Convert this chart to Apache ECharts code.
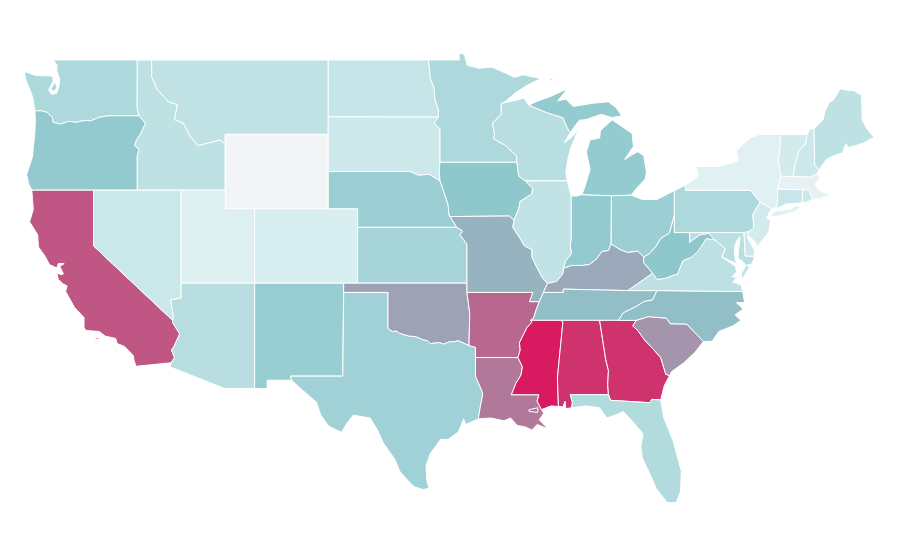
<!DOCTYPE html>
<html>
<head>
<meta charset="utf-8">
<title>US states</title>
<script src="https://cdn.jsdelivr.net/npm/echarts@6/dist/echarts.min.js"></script>
<style>
  html, body { margin: 0; padding: 0; background: #fff; }
  #main { width: 900px; height: 560px; }
</style>
</head>
<body>
<div id="main"></div>
<script>
// values, 0 = palest, 100 = deepest red
const stateNames = ['Alabama','Arizona','Arkansas','California','Colorado','Connecticut','Delaware','Florida','Georgia','Idaho','Illinois','Indiana','Iowa','Kansas','Kentucky','Louisiana','Maine','Maryland','Massachusetts','Michigan','Minnesota','Mississippi','Missouri','Montana','Nebraska','Nevada','New Hampshire','New Jersey','New Mexico','New York','North Carolina','North Dakota','Ohio','Oklahoma','Oregon','Pennsylvania','Rhode Island','South Carolina','South Dakota','Tennessee','Texas','Utah','Vermont','Virginia','Washington','West Virginia','Wisconsin','Wyoming'];
const stateValues = [93,29,78,83,13,21,19,32,93,26,24,48,50,38,59,73,26,28,6,47,34,100,56,25,44,20,19,16,45,9,53,22,43,61,48,34,19,65,19,53,41,11,16,27,34,50,29,0];
const paletteStops = ['#f3f4f6','#daeef0','#c0e2e5','#a7d5d9','#8ec8cd','#a09db2','#b37296','#c64679','#d81b60'];

// state outlines, lon/lat, [outer ring, holes...] per part
const shapes = {
  Washington: [[[[-122.76,49],[-117.03,49],[-117.04,46.42],[-116.92,46],[-118.98,46],[-119.6,45.92],[-120.2,45.73],[-120.65,45.74],[-121.2,45.65],[-121.7,45.7],[-122.25,45.55],[-122.75,45.65],[-122.8,45.9],[-123.15,46.18],[-123.5,46.26],[-124,46.27],[-124.07,46.7],[-124.12,46.95],[-124.3,47.35],[-124.6,47.9],[-124.72,48.38],[-123.9,48.16],[-123.1,48.15],[-122.78,48.13],[-122.75,47.85],[-123.05,47.4],[-122.85,47.15],[-122.5,47.22],[-122.35,47.6],[-122.3,47.95],[-122.5,48.4],[-122.5,48.75]]],[[[-122.62,47.85],[-122.9,47.45],[-122.7,47.3],[-122.5,47.5]]]],
  Oregon: [[[[-124,46.27],[-123.5,46.26],[-123.15,46.18],[-122.8,45.9],[-122.75,45.65],[-122.25,45.55],[-121.7,45.7],[-121.2,45.65],[-120.65,45.74],[-120.2,45.73],[-119.6,45.92],[-118.98,46],[-116.92,46],[-116.47,45.6],[-116.85,44.95],[-117.05,44.75],[-117.22,44.4],[-116.9,44.2],[-117.03,43.83],[-117.03,42],[-124.2,42],[-124.4,42.3],[-124.55,42.84],[-124.4,43.2],[-124.15,43.8],[-124.1,44.3],[-124,45],[-123.95,45.8]]]],
  California: [[[[-124.2,42],[-120,42],[-120,39],[-114.63,35],[-114.6,34.85],[-114.15,34.27],[-114.53,33.6],[-114.7,33.4],[-114.5,33],[-114.72,32.72],[-117.12,32.53],[-117.25,32.85],[-117.3,33.1],[-117.9,33.6],[-118.4,33.75],[-118.5,34.03],[-119.2,34.15],[-119.6,34.4],[-120.5,34.45],[-120.65,34.6],[-120.65,35.15],[-121.3,35.7],[-121.9,36.55],[-121.8,36.85],[-122.05,36.95],[-122.4,37.2],[-122.5,37.55],[-122.2,37.45],[-122.05,37.5],[-122.3,37.9],[-122,38.05],[-122.4,38.05],[-122.5,37.82],[-123,38],[-123.3,38.45],[-123.75,38.95],[-123.8,39.6],[-124.35,40.3],[-124.1,40.95],[-124.15,41.5]]],[[[-119.9,34.05],[-119.6,34.05],[-119.6,33.97],[-119.9,33.97]]],[[[-118.5,33.45],[-118.35,33.4],[-118.42,33.33]]]],
  Idaho: [[[[-117.03,49],[-116.05,49],[-116.05,48.1],[-115.67,47.4],[-114.9,46.75],[-114.3,46.6],[-114.5,45.8],[-113.9,45.6],[-113.4,44.85],[-112.9,44.4],[-111.4,44.7],[-111.05,44.48],[-111.05,42],[-117.03,42],[-117.03,43.83],[-116.9,44.2],[-117.22,44.4],[-117.05,44.75],[-116.85,44.95],[-116.47,45.6],[-116.92,46],[-117.04,46.42]]]],
  Montana: [[[[-116.05,49],[-104.05,49],[-104.05,45],[-111.05,45],[-111.05,44.48],[-111.4,44.7],[-112.9,44.4],[-113.4,44.85],[-113.9,45.6],[-114.5,45.8],[-114.3,46.6],[-114.9,46.75],[-115.67,47.4],[-116.05,48.1]]]],
  Wyoming: [[[[-111.05,45],[-104.05,45],[-104.05,41],[-111.05,41]]]],
  Nevada: [[[[-120,42],[-114.05,42],[-114.05,36.2],[-114.75,36.1],[-114.57,35.2],[-114.63,35],[-120,39]]]],
  Utah: [[[[-114.05,42],[-111.05,42],[-111.05,41],[-109.05,41],[-109.05,37],[-114.05,37]]]],
  Colorado: [[[[-109.05,41],[-102.05,41],[-102.05,37],[-109.05,37]]]],
  Arizona: [[[[-114.05,37],[-109.05,37],[-109.05,31.33],[-111.07,31.33],[-114.81,32.5],[-114.72,32.72],[-114.5,33],[-114.7,33.4],[-114.53,33.6],[-114.15,34.27],[-114.6,34.85],[-114.63,35],[-114.57,35.2],[-114.75,36.1],[-114.05,36.2]]]],
  'New Mexico': [[[[-109.05,37],[-103,37],[-103.06,32],[-106.62,32],[-106.53,31.78],[-108.2,31.78],[-108.2,31.33],[-109.05,31.33]]]],
  'North Dakota': [[[[-104.05,49],[-97.23,49],[-97.1,48],[-96.85,47.5],[-96.8,46.9],[-96.55,46.3],[-96.56,45.93],[-104.05,45.94]]]],
  'South Dakota': [[[[-104.05,45.94],[-96.56,45.93],[-96.85,45.6],[-96.45,45.3],[-96.45,43.5],[-96.5,43.1],[-96.45,42.49],[-97.2,42.85],[-97.9,42.8],[-98.5,43],[-104.05,43]]]],
  Nebraska: [[[[-104.05,43],[-98.5,43],[-97.9,42.8],[-97.2,42.85],[-96.45,42.49],[-96.1,41.7],[-95.9,41.2],[-95.85,40.7],[-95.31,40],[-102.05,40],[-102.05,41],[-104.05,41]]]],
  Kansas: [[[[-102.05,40],[-95.31,40],[-94.9,39.8],[-95.1,39.6],[-94.62,39.1],[-94.62,37],[-102.05,37]]]],
  Oklahoma: [[[[-103,37],[-94.62,37],[-94.62,36.5],[-94.43,35.4],[-94.48,33.64],[-95.2,33.9],[-95.5,33.85],[-95.8,33.85],[-96.2,33.72],[-96.5,33.8],[-97.1,33.75],[-97.3,33.9],[-97.6,33.95],[-98.1,34.12],[-98.6,34.15],[-99.2,34.3],[-99.4,34.42],[-99.7,34.4],[-100,34.56],[-100,36.5],[-103,36.5]]]],
  Texas: [[[[-103,36.5],[-100,36.5],[-100,34.56],[-99.7,34.4],[-99.4,34.42],[-99.2,34.3],[-98.6,34.15],[-98.1,34.12],[-97.6,33.95],[-97.3,33.9],[-97.1,33.75],[-96.5,33.8],[-96.2,33.72],[-95.8,33.85],[-95.5,33.85],[-95.2,33.9],[-94.48,33.64],[-94.04,33.55],[-94.04,32],[-93.6,31.2],[-93.55,31],[-93.7,30.4],[-93.85,29.7],[-94.7,29.4],[-94.85,29.7],[-95.2,29],[-95.9,28.6],[-96.4,28.6],[-97.1,27.85],[-97.4,27.2],[-97.35,26.4],[-97.2,25.97],[-97.6,25.9],[-98.2,26.05],[-98.65,26.4],[-99.2,26.9],[-99.5,27.5],[-100.3,28.4],[-100.7,29.1],[-101.2,29.75],[-102.35,29.9],[-102.75,29.5],[-103.15,28.98],[-104,29.3],[-104.55,29.9],[-104.85,30.6],[-106.1,31.45],[-106.53,31.78],[-106.62,32],[-103.06,32]]]],
  Minnesota: [[[[-97.23,49],[-95.15,49],[-95.15,49.38],[-94.8,49.3],[-94.6,48.72],[-93.8,48.55],[-92.95,48.62],[-92,48.3],[-91.4,48.07],[-90.8,48.2],[-89.6,48],[-90.5,47.65],[-91.3,47.25],[-92.05,46.75],[-92.29,46.66],[-92.29,46.08],[-92.88,45.6],[-92.75,45],[-92.8,44.75],[-92,44.4],[-91.25,43.85],[-91.22,43.5],[-96.45,43.5],[-96.45,45.3],[-96.85,45.6],[-96.56,45.93],[-96.55,46.3],[-96.8,46.9],[-96.85,47.5],[-97.1,48]]]],
  Iowa: [[[[-96.45,43.5],[-91.22,43.5],[-91.1,42.75],[-90.64,42.5],[-90.16,42.1],[-90.2,41.8],[-91,41.4],[-91.1,41],[-91.42,40.38],[-91.73,40.61],[-95.77,40.58],[-95.85,40.7],[-95.9,41.2],[-96.1,41.7],[-96.45,42.49],[-96.5,43.1]]]],
  Missouri: [[[[-95.77,40.58],[-91.73,40.61],[-91.42,40.38],[-91.5,40],[-91,39.4],[-90.7,39],[-90.2,38.8],[-90.2,38.4],[-89.9,37.9],[-89.5,37.3],[-89.15,36.98],[-89.42,36.5],[-89.7,36],[-90.37,36],[-90.15,36.5],[-94.62,36.5],[-94.62,39.1],[-95.1,39.6],[-94.9,39.8],[-95.31,40],[-95.85,40.7]]]],
  Arkansas: [[[[-94.62,36.5],[-90.15,36.5],[-90.37,36],[-89.7,36],[-89.9,35.6],[-90.1,35.1],[-90.3,35],[-90.2,34.9],[-90.55,34.6],[-90.8,34.2],[-91.05,33.8],[-91,33.4],[-91.15,33],[-94.04,33],[-94.04,33.55],[-94.48,33.64],[-94.43,35.4]]]],
  Louisiana: [[[[-94.04,33],[-91.15,33],[-90.85,32.5],[-90.95,32.05],[-91.3,31.6],[-91.6,31],[-89.73,31],[-89.85,30.65],[-89.55,30.2],[-89.4,30],[-89.7,29.65],[-89.1,29.16],[-89.85,29.4],[-90.2,29.1],[-90.65,29.27],[-91.2,29.35],[-91.65,29.75],[-92.1,29.6],[-93,29.75],[-93.85,29.7],[-93.7,30.4],[-93.55,31],[-93.6,31.2],[-94.04,32]],[[-90.4,30.2],[-89.8,30.3],[-89.8,30.05],[-90.4,30.1]]]],
  Wisconsin: [[[[-92.29,46.66],[-91.2,46.85],[-90.75,46.95],[-90.42,46.57],[-89.1,46.14],[-88.1,45.9],[-87.8,45.35],[-87.6,45.1],[-88,44.55],[-87.5,44.85],[-87.05,45.25],[-87.55,44.3],[-87.75,43.7],[-87.9,43],[-87.8,42.5],[-90.64,42.5],[-91.1,42.75],[-91.22,43.5],[-91.25,43.85],[-92,44.4],[-92.8,44.75],[-92.75,45],[-92.88,45.6],[-92.29,46.08]]]],
  Illinois: [[[[-90.64,42.5],[-87.8,42.5],[-87.6,41.85],[-87.53,41.7],[-87.53,39.35],[-87.6,39],[-87.5,38.6],[-87.9,38.2],[-88.05,37.8],[-88.1,37.5],[-88.5,37.1],[-89.15,36.98],[-89.5,37.3],[-89.9,37.9],[-90.2,38.4],[-90.2,38.8],[-90.7,39],[-91,39.4],[-91.5,40],[-91.42,40.38],[-91.1,41],[-91,41.4],[-90.2,41.8],[-90.16,42.1]]]],
  Indiana: [[[[-87.53,41.7],[-87.2,41.68],[-86.8,41.76],[-84.8,41.7],[-84.82,39.1],[-85,38.75],[-85.45,38.7],[-85.8,38.3],[-86.3,38],[-86.8,37.95],[-87.5,37.95],[-88.05,37.8],[-87.9,38.2],[-87.5,38.6],[-87.6,39],[-87.53,39.35]]]],
  Michigan: [[[[-86.8,41.76],[-84.8,41.7],[-83.45,41.73],[-83.15,42.05],[-82.5,42.6],[-82.42,43],[-82.6,43.85],[-83,44.07],[-83.4,43.9],[-83.9,43.65],[-83.3,44.35],[-83.4,45.05],[-84.75,45.78],[-85,45.6],[-85.55,45.2],[-85.6,44.8],[-86.25,44.7],[-86.5,44.05],[-86.25,43.1],[-86.6,42.2]]],[[[-90.42,46.57],[-89.1,46.14],[-88.1,45.9],[-87.8,45.35],[-87.6,45.1],[-87,45.75],[-86.5,45.8],[-85.5,46.08],[-84.75,45.9],[-84.1,46],[-84.5,46.45],[-85,46.75],[-86.1,46.67],[-87.4,46.5],[-87.9,46.9],[-88.45,46.8],[-87.8,47.45],[-88.9,47.05],[-89.8,46.8]]],[[[-89.2,47.85],[-88.5,48.15],[-88.9,47.9]]]],
  Ohio: [[[[-84.8,41.7],[-83.45,41.73],[-82.7,41.5],[-81.7,41.5],[-80.52,41.98],[-80.52,40.64],[-80.85,39.7],[-81.45,39.4],[-81.75,39],[-82.2,38.6],[-82.6,38.4],[-83,38.72],[-83.7,38.65],[-84.2,38.8],[-84.82,39.1]]]],
  Kentucky: [[[[-89.42,36.5],[-89.15,36.98],[-88.5,37.1],[-88.1,37.5],[-88.05,37.8],[-87.5,37.95],[-86.8,37.95],[-86.3,38],[-85.8,38.3],[-85.45,38.7],[-85,38.75],[-84.82,39.1],[-84.2,38.8],[-83.7,38.65],[-83,38.72],[-82.6,38.4],[-82.6,38.1],[-82,37.53],[-83.68,36.6],[-88.07,36.68],[-88.07,36.5]]]],
  Tennessee: [[[[-89.7,36],[-89.42,36.5],[-88.07,36.5],[-88.07,36.68],[-83.68,36.6],[-81.7,36.6],[-82,36.1],[-82.6,36],[-83.1,35.75],[-84,35.4],[-84.32,35],[-90.3,35],[-90.1,35.1],[-89.9,35.6]]]],
  Mississippi: [[[[-90.3,35],[-88.2,35],[-88.1,34.9],[-88.47,31.9],[-88.4,30.37],[-88.9,30.4],[-89.55,30.2],[-89.85,30.65],[-89.73,31],[-91.6,31],[-91.3,31.6],[-90.95,32.05],[-90.85,32.5],[-91.15,33],[-91,33.4],[-91.05,33.8],[-90.8,34.2],[-90.55,34.6],[-90.2,34.9]]]],
  Alabama: [[[[-88.2,35],[-85.6,35],[-85.18,32.87],[-85,32.3],[-85.05,31.55],[-85,31],[-87.6,31],[-87.45,30.6],[-87.5,30.3],[-87.9,30.25],[-87.95,30.65],[-88.1,30.35],[-88.4,30.37],[-88.47,31.9],[-88.1,34.9]]]],
  Georgia: [[[[-85.6,35],[-83.11,35],[-83.35,34.7],[-83,34.45],[-82.55,33.95],[-81.9,33.4],[-81.45,33],[-81.1,32.1],[-80.85,32.03],[-81.2,31.5],[-81.3,31.2],[-81.45,30.72],[-82.05,30.75],[-82.2,30.57],[-84.86,30.7],[-85,31],[-85.05,31.55],[-85,32.3],[-85.18,32.87]]]],
  Florida: [[[[-87.6,31],[-85,31],[-84.86,30.7],[-82.2,30.57],[-82.05,30.75],[-81.45,30.72],[-81.25,29.8],[-80.6,28.5],[-80.05,26.9],[-80.1,25.8],[-80.4,25.2],[-81,25.2],[-81.75,25.95],[-82.1,26.6],[-82.7,27.6],[-82.8,28.2],[-82.65,28.9],[-83.4,29.6],[-84,30.1],[-84.4,29.95],[-85.1,29.75],[-85.6,30.3],[-86.5,30.4],[-87.5,30.3],[-87.45,30.6]]]],
  'South Carolina': [[[[-83.11,35],[-82.3,35.2],[-81.05,35.12],[-80.8,34.82],[-79.67,34.8],[-78.55,33.86],[-79.1,33.3],[-79.9,32.7],[-80.7,32.25],[-80.85,32.03],[-81.1,32.1],[-81.45,33],[-81.9,33.4],[-82.55,33.95],[-83,34.45],[-83.35,34.7]]]],
  'North Carolina': [[[[-84.32,35],[-84,35.4],[-83.1,35.75],[-82.6,36],[-82,36.1],[-81.7,36.6],[-75.87,36.55],[-75.75,35.95],[-76.3,35.95],[-75.85,35.6],[-76.4,35.3],[-76,35],[-76.55,34.7],[-77.5,34.4],[-77.95,33.88],[-78.55,33.86],[-79.67,34.8],[-80.8,34.82],[-81.05,35.12],[-82.3,35.2],[-83.11,35]]]],
  Virginia: [[[[-77.75,39.32],[-77.05,38.85],[-77.3,38.4],[-76.35,37.9],[-76.3,37.6],[-76.6,37.35],[-76.3,37.3],[-76.55,37.05],[-76.3,37],[-75.98,36.9],[-75.87,36.55],[-81.7,36.6],[-83.68,36.6],[-82,37.53],[-81.7,37.2],[-81.2,37.25],[-80.3,37.5],[-79.95,38.2],[-79.3,38.42],[-78.87,38.76],[-78.35,39.4]]],[[[-75.97,37.15],[-75.4,37.9],[-75.65,37.95],[-75.97,37.5]]]],
  'West Virginia': [[[[-82.6,38.4],[-82.2,38.6],[-81.75,39],[-81.45,39.4],[-80.85,39.7],[-80.52,40.64],[-80.52,39.72],[-79.48,39.72],[-79.48,39.2],[-78.8,39.6],[-78.2,39.68],[-77.75,39.32],[-78.35,39.4],[-78.87,38.76],[-79.3,38.42],[-79.95,38.2],[-80.3,37.5],[-81.2,37.25],[-81.7,37.2],[-82,37.53],[-82.6,38.1]]]],
  Maryland: [[[[-79.48,39.72],[-75.79,39.72],[-75.7,38.46],[-75.05,38.45],[-75.25,38.03],[-75.65,37.95],[-75.85,38.15],[-76.2,38.35],[-76.15,38.8],[-76.05,39.5],[-76.3,39.25],[-76.45,38.9],[-76.4,38.35],[-76.3,38.05],[-77.3,38.4],[-77.05,38.85],[-77.75,39.32],[-78.2,39.68],[-78.8,39.6],[-79.48,39.2]]]],
  Delaware: [[[[-75.79,39.72],[-75.4,39.8],[-75.55,39.45],[-75.1,38.8],[-75.05,38.45],[-75.7,38.46]]]],
  'New Jersey': [[[[-75.4,39.8],[-75.13,40],[-75.2,40.7],[-74.7,41.36],[-73.9,41],[-74.25,40.5],[-73.98,40.4],[-74.1,39.75],[-74.9,38.95],[-75,39.2],[-75.55,39.6]]]],
  Pennsylvania: [[[[-80.52,41.98],[-79.76,42.27],[-79.76,42],[-75.35,42],[-74.7,41.36],[-75.2,40.7],[-75.13,40],[-75.4,39.8],[-75.79,39.72],[-80.52,39.72]]]],
  'New York': [[[[-79.76,42.27],[-79,42.7],[-78.9,42.9],[-79.05,43.27],[-77.5,43.27],[-76.5,43.5],[-76.2,43.6],[-76.3,44.15],[-75.3,44.85],[-74.7,45],[-73.35,45],[-73.3,44.5],[-73.45,43.6],[-73.28,42.75],[-73.5,42.05],[-73.5,41.3],[-73.65,41],[-73.9,41],[-74.7,41.36],[-75.35,42],[-79.76,42]]],[[[-74.05,40.6],[-73.7,40.88],[-72.6,40.98],[-72.3,41.15],[-71.87,41.07],[-72.5,40.8],[-73.6,40.58]]]],
  Vermont: [[[[-73.35,45],[-71.5,45],[-71.6,44.5],[-72.05,44.1],[-72.3,43.4],[-72.45,42.73],[-73.28,42.75],[-73.45,43.6],[-73.3,44.5]]]],
  'New Hampshire': [[[[-71.5,45],[-71.3,45.3],[-71.03,45.3],[-70.98,43.4],[-70.7,43.07],[-70.82,42.87],[-71.3,42.7],[-72.45,42.73],[-72.3,43.4],[-72.05,44.1],[-71.6,44.5]]]],
  Maine: [[[[-71.03,45.3],[-70.4,45.8],[-70.3,46.2],[-70,46.7],[-69.7,46.85],[-69.23,47.46],[-69,47.4],[-68.3,47.35],[-67.8,47.1],[-67.75,45.8],[-67.45,45.3],[-66.95,44.85],[-67.6,44.55],[-68.2,44.4],[-68.7,44.3],[-68.85,44.5],[-69.1,44],[-69.7,43.85],[-70.2,43.65],[-70.6,43.2],[-70.7,43.07],[-70.98,43.4]]]],
  Massachusetts: [[[[-73.5,42.05],[-73.28,42.75],[-72.45,42.73],[-71.3,42.7],[-70.82,42.87],[-70.6,42.65],[-71,42.3],[-70.6,41.95],[-70.1,41.78],[-70.2,42.05],[-69.97,41.72],[-70.6,41.55],[-71.12,41.5],[-71.38,42.02],[-71.8,42.02]]]],
  'Rhode Island': [[[[-71.8,42.02],[-71.38,42.02],[-71.12,41.5],[-71.5,41.37],[-71.85,41.32]]]],
  Connecticut: [[[[-73.5,42.05],[-71.8,42.02],[-71.85,41.32],[-72.9,41.25],[-73.65,41],[-73.5,41.3]]]]
};

const usa = {
  type: 'FeatureCollection',
  features: Object.keys(shapes).map(name => ({
    type: 'Feature',
    properties: { name },
    geometry: { type: 'MultiPolygon', coordinates: shapes[name] }
  }))
};
echarts.registerMap('USA', usa);

const myChart = echarts.init(document.getElementById('main'));
const option = {
  animation: false,
  backgroundColor: '#fff',
  visualMap: {
    show: false,
    min: 0,
    max: 100,
    inRange: { color: paletteStops }
  },
  series: [
    {
      type: 'map',
      map: 'USA',
      roam: false,
      silent: true,
      aspectScale: 0.791,
      boundingCoords: [[-124.73, 49.38], [-66.95, 25.12]],
      layoutCenter: [449, 278.5],
      layoutSize: 850,
      label: { show: false },
      itemStyle: { borderColor: '#fff', borderWidth: 1 },
      data: stateNames.map((name, i) => ({ name, value: stateValues[i] }))
    }
  ]
};
myChart.setOption(option);
</script>
</body>
</html>
